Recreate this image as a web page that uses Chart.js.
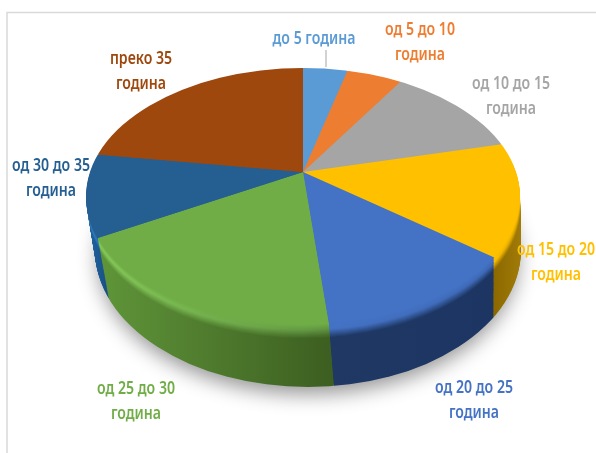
<!DOCTYPE html>
<html><head><meta charset="utf-8">
<style>html,body{margin:0;padding:0;background:#fff}canvas{display:block;filter:blur(0.45px)}</style>
<script src="https://cdn.jsdelivr.net/npm/chart.js@4"></script>
</head><body><canvas id="c" width="596" height="453"></canvas>
<script>
const categories = ['до 5 година','од 5 до 10 година','од 10 до 15 година','од 15 до 20 година','од 20 до 25 година','од 25 до 30 година','од 30 до 35 година','преко 35 година'];
const shares = [3.3,4.3,12.9,13.5,14.1,20.1,9.6,22.2];
const colors = ['#5B9BD5','#ED7D31','#A5A5A5','#FFC000','#4472C4','#70AD47','#255E91','#9E480E'];
const labelLines = [['до 5 година'],['од 5 до 10','година'],['од 10 до 15','година'],['од 15 до 20','година'],['од 20 до 25','година'],['од 25 до 30','година'],['од 30 до 35','година'],['преко 35','година']];
const labelCenters = [[314,39],[420,30],[511,84],[556,250],[474,388],[136,389],[51,166],[141,59]];
// side shading: [leftX, leftColor, rightX, rightColor, leftHighlight, rightHighlight]
const sides = [
 [303,'#3f6f9a',347,'#3f6f9a','#5B9BD5','#5B9BD5'],
 [347,'#a85820',399,'#a85820','#ED7D31','#ED7D31'],
 [399,'#707070',499,'#707070','#A5A5A5','#A5A5A5'],
 [492,'#8a6700',522,'#a27c08','#FFC000','#d9a400'],
 [328,'#1F3864',494,'#1c3562','#4472C4','#3d68b4'],
 [100,'#5f9539',328,'#3d5f21','#86cb5a','#5f9440'],
 [85,'#1f66a8',105,'#1a5288','#2f7cbc','#2f7cbc'],
 [105,'#6a300a',303,'#6a300a','#9E480E','#9E480E']
];
const APEX=[303,172], RX=217, RY_UP=104, RY_DOWN=153, OVER=1.25;
const TOP={x:303,y:196.5,rx:217,ry:128.5}, BOT={x:308,y:250,rx:213,ry:137}, DEPTH=62, BEVEL=14;

function hex(c){return [1,3,5].map(i=>parseInt(c.substr(i,2),16));}
function mix(a,b,t){const A=hex(a),B=hex(b);return 'rgb('+A.map((v,i)=>Math.round(v+(B[i]-v)*t)).join(',')+')';}
function rimColor(top,hl,side,t){
  if(t<0.4) return mix(top,hl,t/0.4);
  return mix(hl,side,(t-0.4)/0.6);
}
function drawLayer(ctx,arcs,i,painter){
  const t=i/DEPTH;
  const e={x:TOP.x+(BOT.x-TOP.x)*t,y:TOP.y+(BOT.y-TOP.y)*t,rx:TOP.rx+(BOT.rx-TOP.rx)*t,ry:TOP.ry+(BOT.ry-TOP.ry)*t};
  const ax=APEX[0]+(BOT.x-TOP.x)*t, ay=APEX[1]+i;
  ctx.save();
  ctx.beginPath();ctx.ellipse(e.x,e.y,e.rx,e.ry,0,0,Math.PI*2);ctx.clip();
  [[0,ay,RY_UP],[ay,453-ay,RY_DOWN]].forEach(([y0,h,ry])=>{
    ctx.save();
    ctx.beginPath();ctx.rect(0,y0,596,h);ctx.clip();
    const R=arcs[0].outerRadius, sx=RX*OVER/R, sy=ry*OVER/R;
    ctx.translate(ax,ay);ctx.scale(sx,sy);ctx.translate(-arcs[0].x,-arcs[0].y);
    arcs.forEach((arc,k)=>{
      const o=arc.options;
      const bg=painter(k,x=>arcs[0].x+(x-ax)/sx);
      arc.options=Object.assign(Object.create(o),{backgroundColor:bg,borderWidth:0});
      arc.draw(ctx);
      arc.options=o;
    });
    ctx.restore();
  });
  ctx.restore();
}
const pie3d={
  id:'pie3d',
  beforeDraw(chart){
    const ctx=chart.ctx;
    ctx.save();ctx.fillStyle='#fff';ctx.fillRect(0,0,596,453);
    ctx.strokeStyle='#d9d9d9';ctx.lineWidth=1.5;
    ctx.beginPath();ctx.moveTo(7,453);ctx.lineTo(7,12.5);ctx.lineTo(596,12.5);ctx.stroke();
    ctx.restore();
  },
  beforeDatasetsDraw(chart){
    const ctx=chart.ctx, arcs=chart.getDatasetMeta(0).data;
    ctx.save();
    ctx.shadowColor='rgba(0,0,0,0.42)';ctx.shadowBlur=20;ctx.shadowOffsetY=9;ctx.fillStyle='#999';
    ctx.beginPath();ctx.ellipse(BOT.x,BOT.y,BOT.rx-3,BOT.ry-2,0,0,Math.PI*2);ctx.fill();
    ctx.restore();
    for(let i=DEPTH;i>=1;i--){
      drawLayer(ctx,arcs,i,(k,toX)=>{
        const s=sides[k], g=ctx.createLinearGradient(toX(s[0]),0,toX(s[2]),0);
        const b=Math.min(1,i/BEVEL);
        if(i>=BEVEL){g.addColorStop(0,s[1]);g.addColorStop(1,s[3]);}
        else{
          g.addColorStop(0,rimColor(colors[k],s[4],s[1],b));
          g.addColorStop(1,rimColor(colors[k],s[5],s[3],b));
        }
        return g;
      });
    }
    drawLayer(ctx,arcs,0,k=>colors[k]);
    return false;
  },
  afterDraw(chart){
    const ctx=chart.ctx;
    ctx.save();
    ctx.strokeStyle='#a5a5a5';ctx.lineWidth=1;
    ctx.beginPath();ctx.moveTo(326,50);ctx.lineTo(326,67);ctx.stroke();
    ctx.font='600 17px "Noto Sans","Open Sans",sans-serif';
    ctx.textAlign='center';ctx.textBaseline='middle';
    labelLines.forEach((lines,k)=>{
      ctx.fillStyle=colors[k];
      lines.forEach((t,j)=>{
        ctx.save();
        ctx.translate(labelCenters[k][0],labelCenters[k][1]+j*25);
        ctx.scale(0.83,1);
        ctx.fillText(t,0,0);
        ctx.restore();
      });
    });
    ctx.restore();
  }
};
new Chart(document.getElementById('c'),{
  type:'pie',
  data:{labels:categories,datasets:[{data:shares,backgroundColor:colors,borderWidth:0}]},
  options:{responsive:false,animation:false,plugins:{legend:{display:false},tooltip:{enabled:false}}},
  plugins:[pie3d]
});
</script></body></html>
